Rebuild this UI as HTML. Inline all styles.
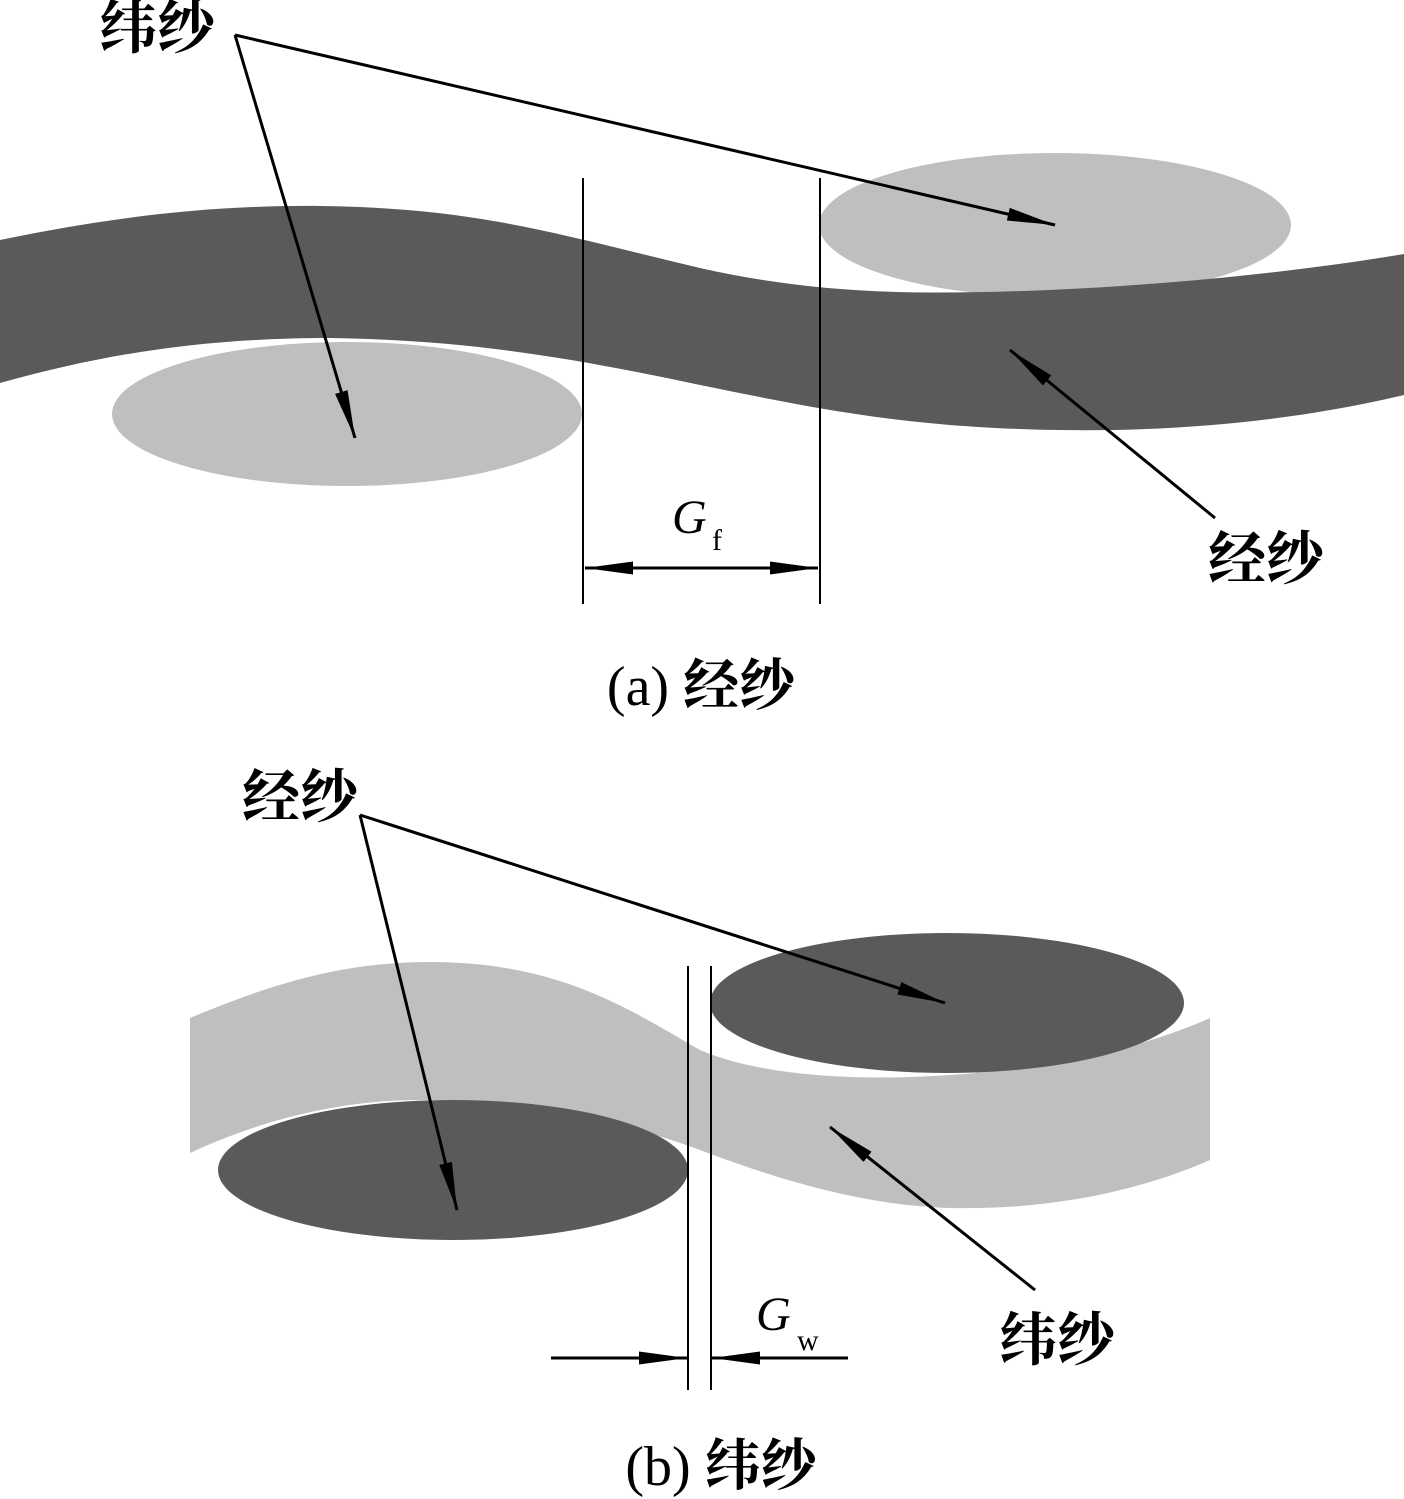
<!DOCTYPE html>
<html><head><meta charset="utf-8"><style>
html,body{margin:0;padding:0;background:#fff;}
svg{display:block;}
text{font-family:"Liberation Serif","Noto Serif CJK SC",serif;fill:#000;}
.cjk{font-family:"Liberation Serif","Noto Serif CJK SC",serif;font-weight:bold;}
</style></head><body>
<svg width="1404" height="1499" viewBox="0 0 1404 1499" xmlns="http://www.w3.org/2000/svg">
<defs>
<marker id="ah" markerWidth="50" markerHeight="16" refX="48" refY="8" orient="auto" markerUnits="userSpaceOnUse">
<path d="M0,1.5 L48,8 L0,14.5 Z" fill="#000"/>
</marker>
</defs>
<!-- (a) -->
<ellipse cx="347" cy="414" rx="235" ry="72" fill="#bfbfbf"/>
<ellipse cx="1055" cy="225" rx="236" ry="72" fill="#bfbfbf"/>
<path d="M0,240 C120,215 220,205 320,206 C480,208 560,235 700,268 C820,295 920,295 1050,290 C1200,283 1320,268 1404,254 L1404,395 C1300,420 1180,432 1060,430 C900,428 800,405 700,385 C560,355 460,340 330,338 C200,338 100,355 0,383 Z" fill="#5a5a5a"/>
<line x1="583" y1="178" x2="583" y2="604" stroke="#000" stroke-width="2"/>
<line x1="820" y1="178" x2="820" y2="604" stroke="#000" stroke-width="2"/>
<line x1="700" y1="568" x2="585" y2="568" stroke="#000" stroke-width="3" marker-end="url(#ah)"/>
<line x1="700" y1="568" x2="818" y2="568" stroke="#000" stroke-width="3" marker-end="url(#ah)"/>
<text x="672" y="533" font-size="48" font-style="italic">G</text>
<text x="712" y="550" font-size="30">f</text>
<text x="99" y="48" font-size="58" class="cjk">纬纱</text>
<line x1="235" y1="35" x2="355" y2="438" stroke="#000" stroke-width="3" marker-end="url(#ah)"/>
<line x1="235" y1="35" x2="1055" y2="225" stroke="#000" stroke-width="3" marker-end="url(#ah)"/>
<text x="1208" y="579" font-size="58" class="cjk">经纱</text>
<line x1="1215" y1="518" x2="1010" y2="350" stroke="#000" stroke-width="3" marker-end="url(#ah)"/>
<text x="701" y="705" font-size="56" text-anchor="middle">(a) <tspan class="cjk">经纱</tspan></text>
<!-- (b) -->
<path d="M190,1018 C280,980 350,962 430,962 C560,962 630,1010 700,1050 C770,1080 880,1080 950,1075 C1060,1068 1150,1045 1210,1018 L1210,1160 C1130,1195 1040,1210 950,1208 C860,1205 780,1180 700,1150 C620,1120 520,1100 420,1100 C330,1100 250,1125 190,1153 Z" fill="#bfbfbf"/>
<ellipse cx="453" cy="1170" rx="235" ry="70" fill="#5a5a5a"/>
<ellipse cx="947" cy="1003" rx="237" ry="70" fill="#5a5a5a"/>
<line x1="688" y1="966" x2="688" y2="1390" stroke="#000" stroke-width="2"/>
<line x1="711" y1="966" x2="711" y2="1390" stroke="#000" stroke-width="2"/>
<line x1="551" y1="1358" x2="687" y2="1358" stroke="#000" stroke-width="3" marker-end="url(#ah)"/>
<line x1="848" y1="1358" x2="712" y2="1358" stroke="#000" stroke-width="3" marker-end="url(#ah)"/>
<text x="756" y="1330" font-size="48" font-style="italic">G</text>
<text x="797" y="1350" font-size="30">w</text>
<text x="242" y="817" font-size="58" class="cjk">经纱</text>
<line x1="360" y1="815" x2="457" y2="1210" stroke="#000" stroke-width="3" marker-end="url(#ah)"/>
<line x1="360" y1="815" x2="945" y2="1003" stroke="#000" stroke-width="3" marker-end="url(#ah)"/>
<text x="999" y="1360" font-size="58" class="cjk">纬纱</text>
<line x1="1035" y1="1290" x2="830" y2="1127" stroke="#000" stroke-width="3" marker-end="url(#ah)"/>
<text x="721" y="1485" font-size="56" text-anchor="middle">(b) <tspan class="cjk">纬纱</tspan></text>
</svg>
</body></html>
